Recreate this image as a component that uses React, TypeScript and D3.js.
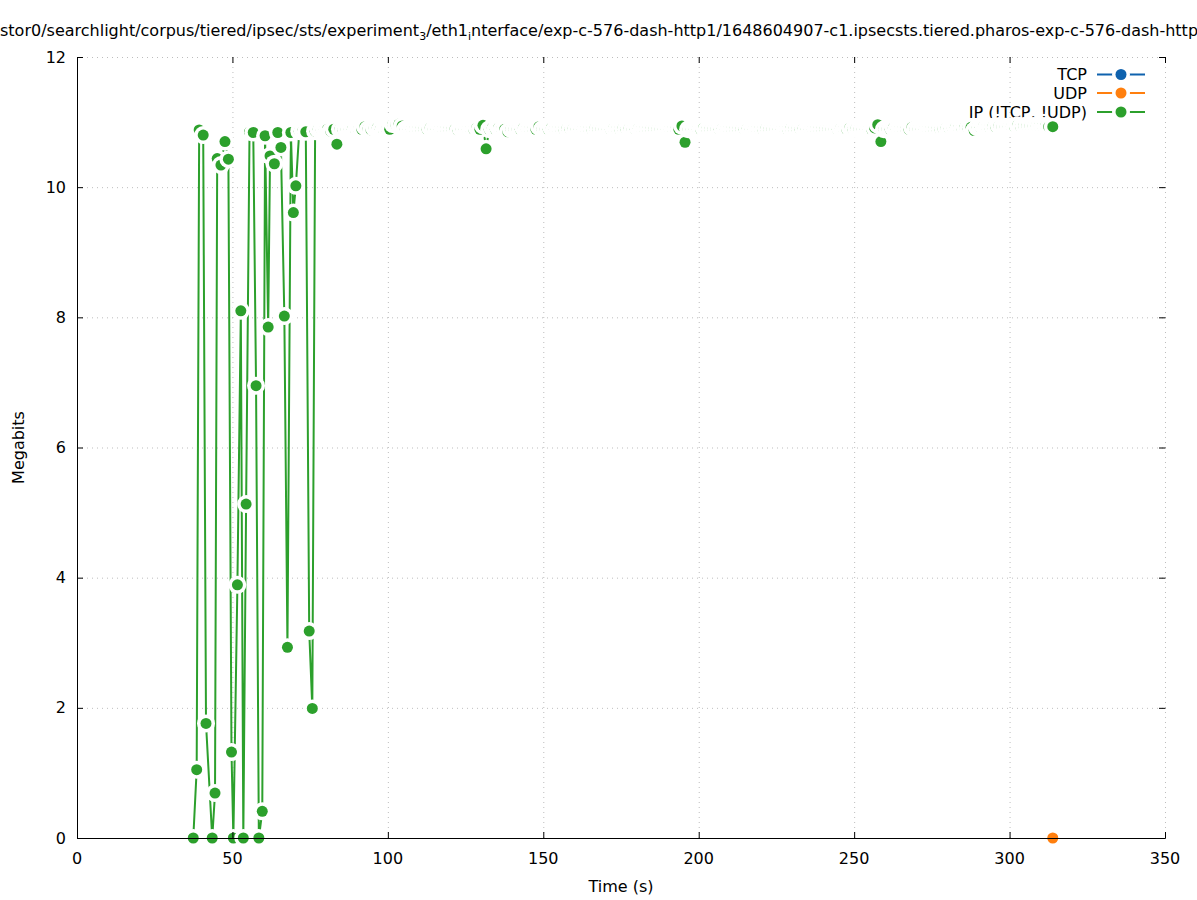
import React from "react";
import * as d3 from "d3";

// ---------- data ----------
const xTickValues = [0, 50, 100, 150, 200, 250, 300, 350];
const yTickValues = [0, 2, 4, 6, 8, 10, 12];

const seriesNames = ["TCP", "UDP", "IP (!TCP, !UDP)"];
const seriesColors = ["#0f62ae", "#ff7f0e", "#2ca02c"];

const tcpTime: number[] = [];
const tcpMbits: number[] = [];

const udpTime = [313.9];
const udpMbits = [0];

const ipTime = [
  37.4, 38.5, 39.3, 40.6, 41.5, 43.5, 44.4, 45.1, 46.3, 47.6,
  48.7, 49.7, 50.3, 51.6, 52.7, 53.5, 54.4, 55.5, 56.7, 57.6,
  58.5, 59.6, 60.5, 61.5, 62.1, 63.5, 64.6, 65.6, 66.7, 67.7,
  68.8, 69.6, 70.4, 71.5, 72.6, 73.6, 74.7, 75.7, 76.6,
  77.6, 78.6, 79.6, 80.6, 81.6, 82.6, 83.6, 84.6, 85.6, 86.6,
  87.6, 88.6, 89.6, 90.6, 91.6, 92.6, 93.6, 94.6, 95.6, 96.6,
  97.6, 98.6, 99.6, 100.6, 101.6, 102.6, 103.6, 104.6, 105.6, 106.6,
  107.6, 108.6, 109.6, 110.6, 111.6, 112.6, 113.6, 114.6, 115.6, 116.6,
  117.6, 118.6, 119.6, 120.6, 121.6, 122.6, 123.6, 124.6, 125.6, 126.6,
  127.6, 128.6, 129.6, 130.6, 131.6, 132.6, 133.6, 134.6, 135.6, 136.6,
  137.6, 138.6, 139.6, 140.6, 141.6, 142.6, 143.6, 144.6, 145.6, 146.6,
  147.6, 148.6, 149.6, 150.6, 151.6, 152.6, 153.6, 154.6, 155.6, 156.6,
  157.6, 158.6, 159.6, 160.6, 161.6, 162.6, 163.6, 164.6, 165.6, 166.6,
  167.6, 168.6, 169.6, 170.6, 171.6, 172.6, 173.6, 174.6, 175.6, 176.6,
  177.6, 178.6, 179.6, 180.6, 181.6, 182.6, 183.6, 184.6, 185.6, 186.6,
  187.6, 188.6, 189.6, 190.6, 191.6, 192.6, 193.6, 194.6, 195.6, 196.6,
  197.6, 198.6, 199.6, 200.6, 201.6, 202.6, 203.6, 204.6, 205.6, 206.6,
  207.6, 208.6, 209.6, 210.6, 211.6, 212.6, 213.6, 214.6, 215.6, 216.6,
  217.6, 218.6, 219.6, 220.6, 221.6, 222.6, 223.6, 224.6, 225.6, 226.6,
  227.6, 228.6, 229.6, 230.6, 231.6, 232.6, 233.6, 234.6, 235.6, 236.6,
  237.6, 238.6, 239.6, 240.6, 241.6, 242.6, 243.6, 244.6, 245.6, 246.6,
  247.6, 248.6, 249.6, 250.6, 251.6, 252.6, 253.6, 254.6, 255.6, 256.6,
  257.6, 258.6, 259.6, 260.6, 261.6, 262.6, 263.6, 264.6, 265.6, 266.6,
  267.6, 268.6, 269.6, 270.6, 271.6, 272.6, 273.6, 274.6, 275.6, 276.6,
  277.6, 278.6, 279.6, 280.6, 281.6, 282.6, 283.6, 284.6, 285.6, 286.6,
  287.6, 288.6, 289.6, 290.6, 291.6, 292.6, 293.6, 294.6, 295.6, 296.6,
  297.6, 298.6, 299.6, 300.6, 301.6, 302.6, 303.6, 304.6, 305.6, 306.6,
  307.6, 308.6, 309.6, 310.6, 311.6, 312.6, 313.9,
];

const ipMbits = [
  0, 1.05, 10.88, 10.8, 1.76, 0, 0.69, 10.44, 10.34, 10.7,
  10.43, 1.32, 0, 3.89, 8.1, 0, 5.13, 10.85, 10.84, 6.95,
  0, 0.41, 10.79, 7.85, 10.48, 10.36, 10.84, 10.61, 8.02, 2.93,
  10.84, 9.61, 10.02, 10.86, 10.86, 10.85, 3.18, 1.99, 10.86,
  10.89, 10.88, 10.89, 10.89, 10.86, 10.89, 10.66, 10.89, 10.88, 10.89,
  10.89, 10.89, 10.88, 10.89, 10.89, 10.93, 10.89, 10.88, 10.91, 10.91,
  10.89, 10.88, 10.89, 10.89, 10.97, 10.96, 10.97, 10.94, 10.89, 10.89,
  10.89, 10.89, 10.89, 10.89, 10.89, 10.89, 10.91, 10.89, 10.89, 10.89,
  10.89, 10.89, 10.89, 10.89, 10.89, 10.87, 10.89, 10.89, 10.89, 10.89,
  10.89, 10.91, 10.89, 10.95, 10.59, 10.89, 10.91, 10.89, 10.91, 10.89,
  10.89, 10.85, 10.89, 10.89, 10.89, 10.89, 10.91, 10.89, 10.89, 10.89,
  10.89, 10.93, 10.89, 10.89, 10.89, 10.91, 10.89, 10.89, 10.89, 10.89,
  10.9, 10.89, 10.9, 10.89, 10.89, 10.89, 10.89, 10.89, 10.89, 10.9,
  10.89, 10.89, 10.89, 10.89, 10.89, 10.9, 10.89, 10.89, 10.9, 10.89,
  10.9, 10.89, 10.89, 10.9, 10.89, 10.89, 10.89, 10.89, 10.89, 10.89,
  10.89, 10.89, 10.89, 10.89, 10.89, 10.89, 10.89, 10.94, 10.69, 10.89,
  10.89, 10.89, 10.89, 10.89, 10.91, 10.89, 10.89, 10.89, 10.89, 10.89,
  10.9, 10.89, 10.89, 10.89, 10.89, 10.89, 10.89, 10.89, 10.9, 10.89,
  10.89, 10.89, 10.89, 10.89, 10.9, 10.89, 10.89, 10.89, 10.89, 10.89,
  10.89, 10.89, 10.9, 10.89, 10.89, 10.89, 10.9, 10.89, 10.89, 10.89,
  10.89, 10.89, 10.89, 10.89, 10.89, 10.89, 10.89, 10.89, 10.9, 10.89,
  10.89, 10.91, 10.89, 10.9, 10.89, 10.89, 10.89, 10.89, 10.89, 10.91,
  10.96, 10.7, 10.89, 10.89, 10.89, 10.91, 10.89, 10.89, 10.89, 10.89,
  10.89, 10.92, 10.89, 10.89, 10.89, 10.89, 10.89, 10.89, 10.89, 10.89,
  10.89, 10.9, 10.91, 10.9, 10.91, 10.92, 10.91, 10.91, 10.92, 10.91,
  10.92, 10.87, 10.92, 10.92, 10.93, 10.92, 10.92, 10.93, 10.92, 10.94,
  10.93, 10.93, 10.93, 10.93, 10.93, 10.95, 10.93, 10.94, 10.94, 10.94,
  10.94, 10.94, 10.94, 10.94, 10.94, 10.93, 10.93,
];

const titleText = [
  { t: "stor0/searchlight/corpus/tiered/ipsec/sts/experiment", sub: false },
  { t: "3", sub: true },
  { t: "/eth1", sub: false },
  { t: "i", sub: true },
  { t: "nterface/exp-c-576-dash-http1/1648604907-c1.ipsecsts.tiered.pharos-exp-c-576-dash-http1", sub: false },
];

const xLabel = "Time (s)";
const yLabel = "Megabits";

// ---------- layout ----------
const W = 1197;
const H = 900;
const L = 77;
const R = 1165;
const T = 57;
const B = 838;
const FONT = "'DejaVu Sans', sans-serif";
const PT_R = 5.5;
const HALO_R = 9;
const TICK = 6;

export default function App() {
  const x = d3.scaleLinear().domain([0, 350]).range([L, R]);
  const y = d3.scaleLinear().domain([0, 12]).range([B, T]);

  const series = [
    { time: tcpTime, vals: tcpMbits },
    { time: udpTime, vals: udpMbits },
    { time: ipTime, vals: ipMbits },
  ];

  const makePath = (time: number[], vals: number[]) =>
    d3
      .line<number>()
      .x((i) => x(time[i]))
      .y((i) => y(vals[i]))(d3.range(time.length)) || "";

  const legendY = [74.5, 93, 112];
  const legendTextX = 1087;
  const sampleX0 = 1097;
  const sampleX1 = 1145;
  const sampleMid = 1121;

  return (
    <svg
      width={W}
      height={H}
      style={{ position: "absolute", left: 0, top: 0, background: "#fff" }}
      fontFamily={FONT}
    >
      <rect x={0} y={0} width={W} height={H} fill="#fff" />
      {/* grid */}
      <g stroke="#bdbdbd" strokeWidth={1} strokeDasharray="1,4">
        {xTickValues.map((v) => (
          <line key={"gx" + v} x1={x(v) + 0.5} x2={x(v) + 0.5} y1={T} y2={B} />
        ))}
        {yTickValues.map((v) => (
          <line key={"gy" + v} x1={L} x2={R} y1={y(v) + 0.5} y2={y(v) + 0.5} />
        ))}
      </g>

      {/* title */}
      <text x={0} y={36} fontSize={16} fill="#000">
        {titleText.map((p, i) =>
          p.sub ? (
            <tspan key={i} fontSize={11} dy={4}>
              {p.t}
            </tspan>
          ) : (
            <tspan key={i} dy={i === 0 ? 0 : -4}>
              {p.t}
            </tspan>
          )
        )}
      </text>

      {/* legend + series */}
      {series.map((s, si) => (
        <g key={"s" + si}>
          <text
            x={legendTextX}
            y={legendY[si] + 5.5}
            fontSize={16}
            textAnchor="end"
            fill="#000"
          >
            {seriesNames[si]}
          </text>
          <line
            x1={sampleX0}
            x2={sampleX1}
            y1={legendY[si]}
            y2={legendY[si]}
            stroke={seriesColors[si]}
            strokeWidth={2}
          />
          <circle cx={sampleMid} cy={legendY[si]} r={HALO_R} fill="#fff" />
          <circle cx={sampleMid} cy={legendY[si]} r={PT_R} fill={seriesColors[si]} />

          <path
            d={makePath(s.time, s.vals)}
            fill="none"
            stroke={seriesColors[si]}
            strokeWidth={2}
            strokeLinejoin="round"
          />
          {s.time.map((t, i) => (
            <g key={"p" + i}>
              <circle cx={x(t)} cy={y(s.vals[i])} r={HALO_R} fill="#fff" />
              <circle cx={x(t)} cy={y(s.vals[i])} r={PT_R} fill={seriesColors[si]} />
            </g>
          ))}
        </g>
      ))}

      {/* border + ticks */}
      <g stroke="#000" strokeWidth={1}>
        <line x1={L + 0.5} x2={L + 0.5} y1={T} y2={B + 0.5} />
        <line x1={L} x2={R + 0.5} y1={B + 0.5} y2={B + 0.5} />
        {xTickValues.map((v) => (
          <g key={"tx" + v}>
            <line x1={x(v) + 0.5} x2={x(v) + 0.5} y1={B} y2={B - TICK} />
            <line x1={x(v) + 0.5} x2={x(v) + 0.5} y1={T} y2={T + TICK} />
          </g>
        ))}
        {yTickValues.map((v) => (
          <g key={"ty" + v}>
            <line x1={L} x2={L + TICK} y1={y(v) + 0.5} y2={y(v) + 0.5} />
            <line x1={R + 0.5} x2={R - TICK} y1={y(v) + 0.5} y2={y(v) + 0.5} />
          </g>
        ))}
      </g>

      {/* tick labels */}
      {xTickValues.map((v) => (
        <text key={"lx" + v} x={x(v)} y={864} fontSize={16} textAnchor="middle" fill="#000">
          {v}
        </text>
      ))}
      {yTickValues.map((v) => (
        <text key={"ly" + v} x={66} y={y(v) + 5.5} fontSize={16} textAnchor="end" fill="#000">
          {v}
        </text>
      ))}

      {/* axis titles */}
      <text x={(L + R) / 2} y={892} fontSize={16} textAnchor="middle" fill="#000">
        {xLabel}
      </text>
      <text
        transform={`translate(24, ${(T + B) / 2}) rotate(-90)`}
        fontSize={16}
        textAnchor="middle"
        fill="#000"
      >
        {yLabel}
      </text>
    </svg>
  );
}
